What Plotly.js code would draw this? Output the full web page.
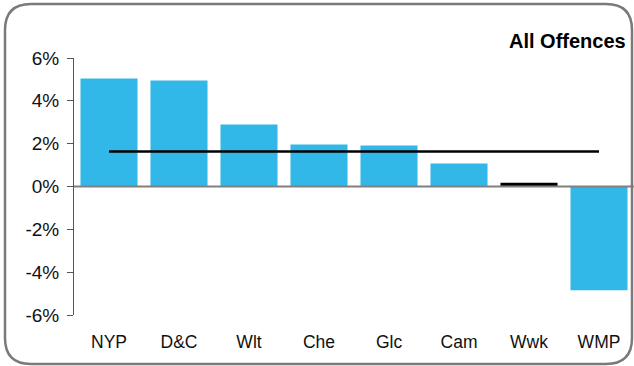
<!DOCTYPE html>
<html><head><meta charset="utf-8">
<script src="https://cdn.plot.ly/plotly-3.0.1.min.js"></script>
<style>html,body{margin:0;padding:0;background:#fff;}#chart{width:634px;height:366px;}</style>
</head><body><div id="chart"></div>
<script>
const categories = ["NYP","D&C","Wlt","Che","Glc","Cam","Wwk","WMP"];
const values = [5.04, 4.95, 2.89, 1.96, 1.91, 1.07, 0.17, -4.84];
const barColors = ["#32b8e8","#32b8e8","#32b8e8","#32b8e8","#32b8e8","#32b8e8","#000000","#32b8e8"];
const average = 1.63;
const yTicks = [-6,-4,-2,0,2,4,6];
const yTickLabels = ["-6%","-4%","-2%","0%","2%","4%","6%"];

const W = 634, H = 366, mL = 74, mR = 0, mT = 58, mB = 51;
const pw = W - mL - mR, ph = H - mT - mB;
function px(x){ return (x - mL) / pw; }
function py(y){ return (H - mB - y) / ph; }
function borderPath(l, t, r, b, rad){
  const p = (x,y) => px(x) + "," + py(y);
  return "M" + p(l+rad,t) + " L" + p(r-rad,t) + " Q" + p(r,t) + " " + p(r,t+rad) +
    " L" + p(r,b-rad) + " Q" + p(r,b) + " " + p(r-rad,b) +
    " L" + p(l+rad,b) + " Q" + p(l,b) + " " + p(l,b-rad) +
    " L" + p(l,t+rad) + " Q" + p(l,t) + " " + p(l+rad,t) + " Z";
}

const traces = [
  {type:"bar", x:categories, y:values, marker:{color:barColors}, hoverinfo:"none", showlegend:false},
  {type:"scatter", mode:"lines", x:[categories[0], categories[categories.length-1]], y:[average, average],
   line:{color:"#000", width:2.5}, hoverinfo:"none", showlegend:false}
];

const layout = {
  width: W, height: H,
  margin: {l:mL, r:mR, t:mT, b:mB, pad:0},
  paper_bgcolor:"#fff", plot_bgcolor:"rgba(0,0,0,0)",
  bargap: 0.185,
  font: {family:"Liberation Sans, Arial, sans-serif", color:"#111", size:17},
  xaxis: {type:"category", showgrid:false, zeroline:false, showline:false, ticks:"",
          tickfont:{size:17.5}, ticklabelstandoff:14, fixedrange:true},
  yaxis: {range:[-6,6], tickvals:yTicks, ticktext:yTickLabels, showgrid:false, zeroline:false,
          showline:true, linecolor:"#555", linewidth:1, ticks:"outside", ticklen:6, tickcolor:"#555",
          tickfont:{size:19}, ticklabelstandoff:4, fixedrange:true},
  shapes: [
    {type:"line", xref:"paper", yref:"y", x0:0, x1:1, y0:0, y1:0, line:{color:"#808080", width:2}, layer:"above"},
    {type:"path", xref:"paper", yref:"paper", path:borderPath(5,4,632,364,26), line:{color:"#7a7a7a", width:2.5}, layer:"above"}
  ],
  annotations: [
    {xref:"paper", yref:"paper", x:px(628), y:py(41), xanchor:"right", yanchor:"middle", showarrow:false,
     text:"<b>All Offences</b>", font:{size:20, color:"#000"}}
  ]
};
Plotly.newPlot("chart", traces, layout, {staticPlot:true, displayModeBar:false});
</script></body></html>
